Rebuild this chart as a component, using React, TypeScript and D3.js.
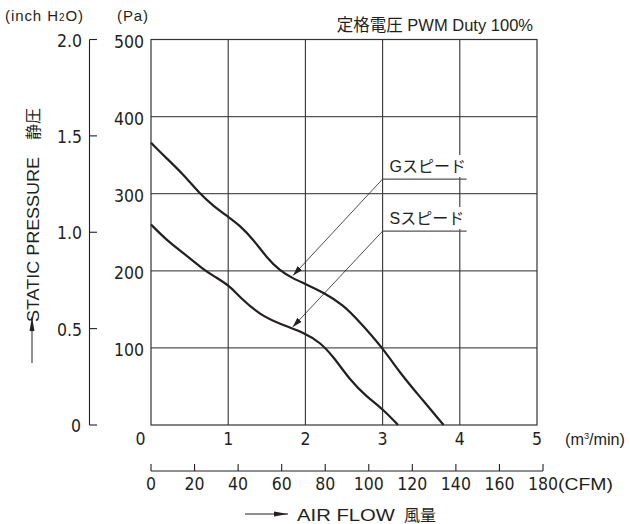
import React from "react";
import * as d3 from "d3";

// G speed and S speed curves: [air flow m3/min, static pressure Pa]
const gSpeed: [number, number][] = [
  [0, 366], [0.2, 346], [0.42, 325], [0.63, 300], [0.81, 284], [1.0, 270],
  [1.15, 259], [1.33, 240], [1.5, 217], [1.67, 200], [1.84, 190], [2.0, 183],
  [2.23, 172], [2.49, 156], [2.71, 133], [3.0, 100], [3.23, 67], [3.48, 37], [3.79, 0],
];
const sSpeed: [number, number][] = [
  [0, 260], [0.2, 240], [0.42, 223], [0.66, 203], [0.83, 192], [1.0, 182],
  [1.17, 164], [1.41, 143], [1.67, 131], [2.0, 119], [2.19, 107], [2.36, 89],
  [2.58, 58], [2.79, 37], [3.0, 21], [3.2, 0],
];

const flowTicks = [0, 1, 2, 3, 4, 5];
const paTicks = [100, 200, 300, 400, 500];
const inchTicks = [0, 0.5, 1.0, 1.5, 2.0];
const cfmTicks = [0, 20, 40, 60, 80, 100, 120, 140, 160, 180];

// callouts: label text, label anchor (flow, Pa), arrow tip (flow, Pa)
const callouts = [
  { label: "Gスピード", at: [3.0, 319], tip: [1.84, 194] },
  { label: "Sスピード", at: [3.0, 251.5], tip: [1.835, 127] },
];

const NUM = "'Liberation Sans Narrow', 'DejaVu Sans Condensed', sans-serif";
const SANS = "'Liberation Sans', Arial, 'Noto Sans CJK JP', sans-serif";
const INK = "#231f20";

export default function App() {
  const x = d3.scaleLinear().domain([0, 5]).range([151, 537]);
  const y = d3.scaleLinear().domain([0, 500]).range([425, 39.5]);
  const yIn = d3.scaleLinear().domain([0, 2]).range([425, 39.5]);
  const xCfm = d3.scaleLinear().domain([0, 180]).range([151, 543]);

  const line = d3
    .line<[number, number]>()
    .x((d) => x(d[0]))
    .y((d) => y(d[1]))
    .curve(d3.curveBasis);

  const [x0, x1] = x.range();
  const [y0, y1] = y.range();

  return (
    <svg
      width={630}
      height={524}
      style={{ position: "absolute", left: 0, top: 0, background: "#fff" }}
    >
      <defs>
        <marker id="tipArrow" viewBox="0 0 10 6" refX="10" refY="3" markerWidth="10" markerHeight="6" orient="auto" markerUnits="userSpaceOnUse">
          <path d="M0,0 L10,3 L0,6 Z" fill={INK} />
        </marker>
        <marker id="axArrow" viewBox="0 0 14 6" refX="14" refY="3" markerWidth="14" markerHeight="6" orient="auto" markerUnits="userSpaceOnUse">
          <path d="M0,0.5 L14,3 L0,5.5 Z" fill={INK} />
        </marker>
      </defs>

      {/* header texts */}
      <text x={5} y={21} fontFamily={SANS} fontSize={15} fill={INK} textLength={78} lengthAdjust="spacing">
        (inch H<tspan fontSize={10}>2</tspan>O)
      </text>
      <text x={117} y={21} fontFamily={SANS} fontSize={15} fill={INK} textLength={31} lengthAdjust="spacing">
        (Pa)
      </text>
      <text x={533} y={31} textAnchor="end" fontFamily={SANS} fontSize={16.5} fill={INK}>
        定格電圧 PWM Duty 100%
      </text>

      {/* grid */}
      {paTicks.slice(0, -1).map((t) => (
        <line key={"h" + t} x1={x0} x2={x1} y1={y(t)} y2={y(t)} stroke="#555" strokeWidth={1.3} />
      ))}
      {flowTicks.slice(1, -1).map((t) => (
        <line key={"v" + t} x1={x(t)} x2={x(t)} y1={y0} y2={y1} stroke="#333" strokeWidth={1.1} />
      ))}
      <rect x={x0} y={y1} width={x1 - x0} height={y0 - y1} fill="none" stroke="#333" strokeWidth={1.2} />

      {/* Pa labels */}
      {paTicks.map((t) => (
        <text key={"pa" + t} x={144} y={y(t) + 8} textAnchor="end" fontFamily={NUM} fontSize={17.5} fill={INK}>
          {t}
        </text>
      ))}

      {/* inch axis */}
      <line x1={89.5} x2={89.5} y1={yIn(0)} y2={yIn(2)} stroke={INK} strokeWidth={1.1} />
      {inchTicks.map((t) => (
        <g key={"in" + t}>
          <line x1={89.5} x2={97} y1={yIn(t)} y2={yIn(t)} stroke={INK} strokeWidth={1.1} />
          <text x={t === 0 ? 81 : 82} y={yIn(t) + 7} textAnchor="end" fontFamily={NUM} fontSize={17.5} fill={INK}>
            {t === 0 ? "0" : t.toFixed(1)}
          </text>
        </g>
      ))}

      {/* flow labels (m3/min) */}
      {flowTicks.map((t) => (
        <text key={"f" + t} x={t === 0 ? 140.5 : x(t)} y={445} textAnchor="middle" fontFamily={NUM} fontSize={17.5} fill={INK}>
          {t}
        </text>
      ))}
      <text x={565} y={445} fontFamily={SANS} fontSize={16} fill={INK} textLength={60} lengthAdjust="spacingAndGlyphs">
        (m<tspan fontSize={9} dy={-6}>3</tspan><tspan dy={6}>/min)</tspan>
      </text>

      {/* CFM axis */}
      <line x1={xCfm(0)} x2={xCfm(180)} y1={471} y2={471} stroke={INK} strokeWidth={1.1} />
      {cfmTicks.map((t) => (
        <g key={"c" + t}>
          <line x1={xCfm(t)} x2={xCfm(t)} y1={471} y2={464} stroke={INK} strokeWidth={1.1} />
          <text x={xCfm(t)} y={490} textAnchor="middle" fontFamily={NUM} fontSize={17.5} fill={INK}>
            {t}
          </text>
        </g>
      ))}
      <text x={558} y={490} fontFamily={SANS} fontSize={17} fill={INK} textLength={55} lengthAdjust="spacingAndGlyphs">
        (CFM)
      </text>

      {/* x axis title */}
      <line x1={245} x2={288} y1={514} y2={514} stroke={INK} strokeWidth={1} markerEnd="url(#axArrow)" />
      <text x={297} y={520.5} fontFamily={SANS} fontSize={17} fill={INK} textLength={98} lengthAdjust="spacingAndGlyphs">
        AIR FLOW
      </text>
      <text x={404} y={520.5} fontFamily={SANS} fontSize={16} fill={INK}>
        風量
      </text>

      {/* y axis title */}
      <line x1={32} x2={32} y1={363} y2={317} stroke={INK} strokeWidth={1} markerEnd="url(#axArrow)" />
      <g transform="translate(38.5,0) rotate(-90)">
        <text x={-322} y={0} fontFamily={SANS} fontSize={17} fill={INK} textLength={165} lengthAdjust="spacingAndGlyphs">
          STATIC PRESSURE
        </text>
        <text x={-140} y={0} fontFamily={SANS} fontSize={16} fill={INK}>
          静圧
        </text>
      </g>

      {/* curves */}
      <path d={line(gSpeed) ?? ""} fill="none" stroke={INK} strokeWidth={2.2} />
      <path d={line(sSpeed) ?? ""} fill="none" stroke={INK} strokeWidth={2.2} />

      {/* callouts */}
      {callouts.map((c) => {
        const ax = x(c.at[0]);
        const ay = y(c.at[1]);
        return (
          <g key={c.label}>
            <rect x={ax + 3} y={ay - 24} width={80} height={22} fill="#fff" />
            <line x1={ax} y1={ay} x2={x(c.tip[0])} y2={y(c.tip[1])} stroke={INK} strokeWidth={0.8} markerEnd="url(#tipArrow)" />
            <line x1={ax} y1={ay} x2={ax + 84} y2={ay} stroke="#555" strokeWidth={1.3} />
            <text x={ax + 7} y={ay - 7} fontFamily={SANS} fontSize={16} fill={INK}>
              {c.label}
            </text>
          </g>
        );
      })}
    </svg>
  );
}
